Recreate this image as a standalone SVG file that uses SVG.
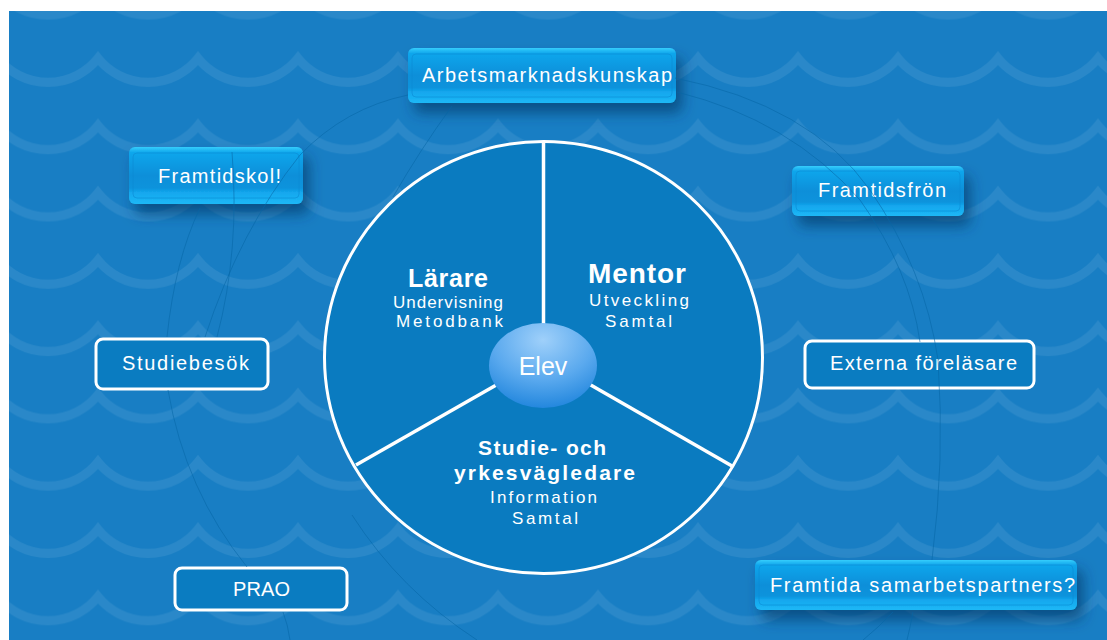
<svg xmlns="http://www.w3.org/2000/svg" width="1107" height="640" viewBox="0 0 1107 640">
<defs>
<style>
.t{font-family:"Liberation Sans",Arial,sans-serif;fill:#fff;}
.box{font-size:20px;text-anchor:middle}
.h{font-weight:bold;text-anchor:middle}
.s{font-size:17px;text-anchor:middle}
.out{fill:#0a7cc1;stroke:#fff;stroke-width:3}
.gl{fill:url(#gloss);filter:url(#sh)}
.glx{fill:none;stroke:#0b8bd3;stroke-width:1;opacity:.6}
.conn{fill:none;stroke:#0666a6;stroke-width:1;opacity:.55}
.div{stroke:#fff;stroke-width:3.5}
</style>
<linearGradient id="gloss" x1="0" y1="0" x2="0" y2="1">
<stop offset="0" stop-color="#35cdfc"/>
<stop offset="0.1" stop-color="#0fa6ec"/>
<stop offset="0.5" stop-color="#0a8fd9"/>
<stop offset="0.72" stop-color="#0b93dc"/>
<stop offset="0.8" stop-color="#13a7ee"/>
<stop offset="1" stop-color="#1db8f6"/>
</linearGradient>
<filter id="sh" x="-20%" y="-30%" width="150%" height="190%">
<feDropShadow dx="6" dy="10" stdDeviation="7" flood-color="#04365e" flood-opacity=".6"/>
</filter>
<radialGradient id="elev" cx="0.5" cy="0.2" r="0.85">
<stop offset="0" stop-color="#9fd0fa"/>
<stop offset="0.55" stop-color="#5aa9ee"/>
<stop offset="1" stop-color="#1b82db"/>
</radialGradient>
<pattern id="waves" x="-2" y="-19" width="100" height="67.3" patternUnits="userSpaceOnUse">
<path d="M-100,10 A64,64 0 0 0 0,10 A64,64 0 0 0 100,10 A64,64 0 0 0 200,10" fill="none" stroke="#fff" stroke-opacity=".08" stroke-width="9"/>
</pattern>
</defs>

<g id="background">
<rect width="1107" height="640" fill="#fff"/>
<rect x="9" y="11" width="1098" height="629" fill="#187ec4"/>
<rect x="9" y="11" width="1098" height="629" fill="url(#waves)"/>
</g>

<g id="wheel">
<ellipse cx="543.5" cy="357.5" rx="219" ry="216" fill="#0a7bc0" stroke="#fff" stroke-width="3"/>
<line class="div" x1="543.5" y1="141.5" x2="543.5" y2="326"/>
<line class="div" x1="356" y1="465" x2="498" y2="384"/>
<line class="div" x1="732" y1="466" x2="589" y2="384"/>
</g>

<g id="larare">
<text class="t h" x="448" y="287" font-size="25" textLength="80">Lärare</text>
<text class="t s" x="448" y="308" textLength="110">Undervisning</text>
<text class="t s" x="449.5" y="327" textLength="107">Metodbank</text>
</g>

<g id="mentor">
<text class="t h" x="637" y="283" font-size="28" textLength="98">Mentor</text>
<text class="t s" x="639" y="306" textLength="100">Utveckling</text>
<text class="t s" x="638.5" y="327" textLength="67">Samtal</text>
</g>

<g id="syv">
<text class="t h" x="542" y="455" font-size="21" textLength="128">Studie- och</text>
<text class="t h" x="544.5" y="480" font-size="21" textLength="181">yrkesvägledare</text>
<text class="t s" x="543.5" y="503" textLength="107">Information</text>
<text class="t s" x="545" y="524" textLength="66">Samtal</text>
</g>

<g id="elev">
<ellipse cx="543" cy="365.5" rx="54" ry="42.5" fill="url(#elev)"/>
<text class="t" x="543" y="375" font-size="25" text-anchor="middle">Elev</text>
</g>

<g id="arbetsmarknadskunskap">
<rect class="gl" x="408" y="48" width="268" height="55" rx="6"/>
<rect class="glx" x="412" y="54" width="260" height="43" rx="4"/>
<text class="t box" x="547" y="82" textLength="250">Arbetsmarknadskunskap</text>
</g>

<g id="framtidskol">
<rect class="gl" x="129" y="147" width="174" height="57" rx="6"/>
<rect class="glx" x="133" y="153" width="166" height="45" rx="4"/>
<text class="t box" x="219.5" y="183" textLength="123">Framtidskol!</text>
</g>

<g id="framtidsfron">
<rect class="gl" x="792" y="166" width="172" height="50" rx="6"/>
<rect class="glx" x="796" y="171" width="164" height="40" rx="4"/>
<text class="t box" x="882" y="197" textLength="128">Framtidsfrön</text>
</g>

<g id="framtida">
<rect class="gl" x="755" y="560" width="322" height="50" rx="6"/>
<rect class="glx" x="759" y="565" width="314" height="40" rx="4"/>
<text class="t box" x="922.5" y="592" textLength="305">Framtida samarbetspartners?</text>
</g>

<g id="studiebesok">
<rect class="out" x="96" y="339" width="172" height="50" rx="7"/>
<text class="t box" x="185.5" y="370" textLength="127">Studiebesök</text>
</g>

<g id="prao">
<rect class="out" x="175" y="568" width="172" height="42" rx="7"/>
<text class="t box" x="261.5" y="596" textLength="57">PRAO</text>
</g>

<g id="externa">
<rect class="out" x="805" y="341" width="229" height="47" rx="7"/>
<text class="t box" x="923.5" y="370" textLength="187">Externa föreläsare</text>
</g>

<g id="connectors">
<path class="conn" d="M675,78 Q810,105 870,190 Q925,270 938,360 Q945,460 932,560"/>
<path class="conn" d="M677,92 Q790,120 860,200 Q910,270 920,342"/>
<path class="conn" d="M893,612 Q878,628 863,640"/>
<path class="conn" d="M913,612 Q910,628 907,640"/>
<path class="conn" d="M408,95 Q345,108 300,155 Q240,230 205,337"/>
<path class="conn" d="M452,106 Q420,150 393,197"/>
<path class="conn" d="M200,208 Q175,260 167,337"/>
<path class="conn" d="M232,152 Q240,250 217,337"/>
<path class="conn" d="M168,390 Q185,490 247,567"/>
<path class="conn" d="M283,612 Q288,625 290,640"/>
<path class="conn" d="M352,515 Q400,590 477,640"/>
</g>
</svg>
